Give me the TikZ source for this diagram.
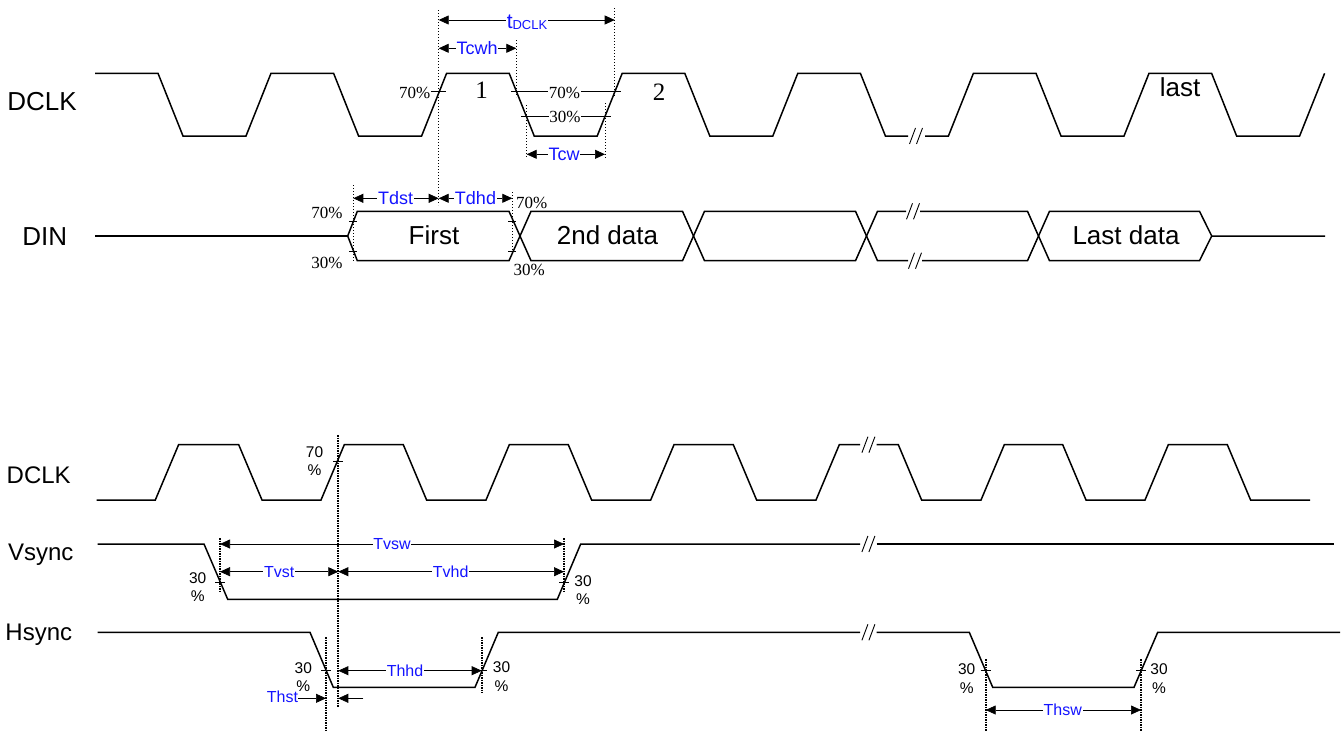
\documentclass[tikz,border=0pt]{standalone}
\usepackage{fontspec}
\setmainfont{Liberation Sans}
\newfontfamily\seriffont{Liberation Serif}
\usetikzlibrary{arrows.meta}
\definecolor{lblue}{RGB}{20,20,255}
\begin{document}
\begin{tikzpicture}[x=1pt,y=-1pt,
  wave/.style={line width=1.5pt},
  dotv/.style={line width=0.8pt, dash pattern=on 1.4pt off 1.6pt},
  dotb/.style={line width=1.8pt, dash pattern=on 1.5pt off 1pt},
  dimarr/.style={line width=0.7pt, {Triangle[length=10pt,width=9pt]}-{Triangle[length=10pt,width=9pt]}},
  onearr/.style={line width=0.7pt, -{Triangle[length=10pt,width=9pt]}},
  blbl/.style={text=lblue, fill=white, inner sep=0.8pt, font=\fontsize{18}{18}\selectfont},
  blbls/.style={text=lblue, fill=white, inner sep=0.8pt, font=\fontsize{16}{16}\selectfont},
  sigtop/.style={anchor=base, inner sep=0pt, font=\fontsize{26}{26}\selectfont},
  sigbot/.style={anchor=base, inner sep=0pt, font=\fontsize{24}{24}\selectfont},
  pct/.style={anchor=base, inner sep=0.6pt, font=\seriffont\fontsize{17}{17}\selectfont},
  pcts/.style={align=center, inner sep=0pt, font=\fontsize{15.5}{18.5}\selectfont},
  ticklin/.style={line width=0.8pt},
  brk/.pic={\draw[line width=0.9pt] (-6.5,8)--(-0.5,-8) (0.5,8)--(6.5,-8);}
]
\useasboundingbox (0,0) rectangle (1343,731);

% ---------------- top section ----------------
\node[sigtop] (dclkA) at (42,110.7) {DCLK};
\node[sigtop] (din) at (44.7,245) {DIN};

% DCLK top
\draw[wave] (95,73.3) -- (158,73.3) -- (183,136) -- (246,136) -- (271,73.3) -- (333.6,73.3) -- (358.6,136) -- (421.6,136) -- (446.6,73.3) -- (509.2,73.3) -- (534.2,136) -- (597.2,136) -- (622.2,73.3) -- (684.8,73.3) -- (709.8,136) -- (772.8,136) -- (797.8,73.3) -- (860.4,73.3) -- (885.4,136) -- (908,136);
\draw[wave] (925,136) -- (948.4,136) -- (973.4,73.3) -- (1036,73.3) -- (1061,136) -- (1124,136) -- (1149,73.3) -- (1211.6,73.3) -- (1236.6,136) -- (1299.6,136) -- (1324.6,73.3);
\pic at (916,136) {brk};

% DIN
\draw[wave] (95,236) -- (347.7,236);
\draw[wave] (347.7,236) -- (357.3,211.3) -- (509,211.3) -- (531,260.7) -- (682.5,260.7) -- (704.5,211.3) -- (855.5,211.3) -- (877.5,260.7) -- (908,260.7);
\draw[wave] (347.7,236) -- (357.3,260.7) -- (509,260.7) -- (531,211.3) -- (682.5,211.3) -- (704.5,260.7) -- (855.5,260.7) -- (877.5,211.3) -- (906,211.3);
\draw[wave] (920,211.3) -- (1027.5,211.3) -- (1049.5,260.7) -- (1199.5,260.7) -- (1211.7,236) -- (1325,236);
\draw[wave] (922,260.7) -- (1027.5,260.7) -- (1049.5,211.3) -- (1199.5,211.3) -- (1211.7,236);
\pic at (913,211.3) {brk};
\pic at (915,260.7) {brk};

\node[sigtop] (first) at (434,244.5) {First};
\node[sigtop] (second) at (607.5,244.5) {2nd data};
\node[sigtop] (lastd) at (1126,244.5) {Last data};
\node[sigtop] (lastc) at (1180,96) {last};
\node[anchor=base, inner sep=0pt, font=\seriffont\fontsize{25}{25}\selectfont] (one) at (481.7,98.3) {1};
\node[anchor=base, inner sep=0pt, font=\seriffont\fontsize{25}{25}\selectfont] (two) at (659,100) {2};

% dotted guide lines (top)
\coordinate (ga) at (438.7,10);   \coordinate (gab) at (438.7,205);
\coordinate (gb) at (516.3,40);   \coordinate (gbb) at (516.3,97);
\coordinate (gc) at (614.7,8);    \coordinate (gcb) at (614.7,97);
\coordinate (gd) at (526.7,105);  \coordinate (gdb) at (526.7,158);
\coordinate (ge) at (605,103);    \coordinate (geb) at (605,158);
\coordinate (gf) at (353.3,185);  \coordinate (gfb) at (353.3,262);
\coordinate (gg) at (512.3,192);  \coordinate (ggb) at (512.3,252);
\foreach \p/\q in {ga/gab,gb/gbb,gc/gcb,gd/gdb,ge/geb,gf/gfb,gg/ggb} \draw[dotv] (\p) -- (\q);

% 70% / 30% levels
\draw[ticklin] (431,91.7) -- (446,91.7);
\node[pct, anchor=base east] (p70a) at (431,98) {70\%};
\draw[ticklin] (511,91.7) -- (621,91.7);
\node[pct, fill=white] (p70b) at (564.5,98) {70\%};
\draw[ticklin] (521,116.7) -- (611,116.7);
\node[pct, fill=white] (p30b) at (565,122.7) {30\%};
\foreach \x/\y in {353.3/221.5,353.3/251,512.3/221.5,512.3/251} \draw[ticklin] (\x-4,\y) -- (\x+4,\y);
\node[pct] (p70c) at (327,218.3) {70\%};
\node[pct] (p30c) at (327,268.3) {30\%};
\node[pct] (p70d) at (531.7,208.3) {70\%};
\node[pct] (p30d) at (529.3,275) {30\%};

% dimension arrows (top)
\draw[dimarr] (438.7,20) -- (614.7,20);
\node[anchor=base, text=lblue, fill=white, inner sep=0.8pt] (tdclk) at (527,28.3) {\fontsize{21}{21}\selectfont t\raisebox{-1pt}{\fontsize{13}{13}\selectfont DCLK}};
\draw[dimarr] (438.7,48.3) -- (516.3,48.3);
\node[blbl] (tcwh) at (477,48.3) {Tcwh};
\draw[dimarr] (526.7,154.3) -- (605,154.3);
\node[blbl] (tcw) at (564,154.3) {Tcw};
\draw[dimarr] (353.3,198.3) -- (438.7,198.3);
\node[blbl] (tdst) at (395.7,198.3) {Tdst};
\draw[dimarr] (438.7,198.3) -- (512.3,198.3);
\node[blbl] (tdhd) at (475.5,198.3) {Tdhd};

% ---------------- bottom section ----------------
\node[sigbot] (dclkB) at (38.7,483.3) {DCLK};
\node[sigbot] (vsync) at (40.7,560) {Vsync};
\node[sigbot] (hsync) at (38.8,640) {Hsync};

% DCLK bottom
\draw[wave] (96.7,500) -- (155.3,500) -- (178.6,444.7) -- (238.7,444.7) -- (262,500) -- (321,500) -- (344.3,444.7) -- (403.3,444.7) -- (426.6,500) -- (486,500) -- (509.3,444.7) -- (568.3,444.7) -- (591.6,500) -- (650.7,500) -- (674,444.7) -- (733.3,444.7) -- (756.6,500) -- (816,500) -- (839.3,444.7) -- (860,444.7);
\draw[wave] (876.7,444.7) -- (898.3,444.7) -- (921.6,500) -- (981,500) -- (1004.3,444.7) -- (1062.7,444.7) -- (1086,500) -- (1145,500) -- (1168.3,444.7) -- (1227.3,444.7) -- (1250.6,500) -- (1310,500);
\pic at (868.4,444.7) {brk};

% Vsync
\draw[wave] (97.7,544) -- (204,544) -- (227.7,599.3) -- (557.3,599.3) -- (580.7,544) -- (860,544);
\draw[wave] (876.7,544) -- (1334.3,544);
\pic at (868.4,544) {brk};

% Hsync
\draw[wave] (97.7,632.3) -- (310,632.3) -- (333.3,687.3) -- (475,687.3) -- (498.3,632.3) -- (860,632.3);
\draw[wave] (876.7,632.3) -- (969.3,632.3) -- (992.7,687.3) -- (1134,687.3) -- (1157.7,632.3) -- (1340,632.3);
\pic at (868.4,632.3) {brk};

% dotted guide lines (bottom)
\coordinate (ha) at (338.3,435);  \coordinate (hab) at (338.3,707);
\coordinate (hb) at (220,538);    \coordinate (hbb) at (220,593);
\coordinate (hc) at (564,538);    \coordinate (hcb) at (564,593);
\coordinate (hd) at (326,637);    \coordinate (hdb) at (326,731);
\coordinate (he) at (481.7,637);  \coordinate (heb) at (481.7,693);
\coordinate (hf) at (985.7,659);  \coordinate (hfb) at (985.7,731);
\coordinate (hg) at (1141,659);   \coordinate (hgb) at (1141,731);
\foreach \p/\q in {ha/hab,hb/hbb,hc/hcb,hd/hdb,he/heb,hf/hfb,hg/hgb} \draw[dotb] (\p) -- (\q);

% ticks and percent labels (bottom)
\foreach \x/\y in {338.3/461.3,220/582.7,564/582.3,326/670.7,481.7/670.7,985.7/670.7,1141/670.7} \draw[ticklin] (\x-5,\y) -- (\x+5,\y);
\node[pcts] (q1) at (314.5,461) {70\\\%};
\node[pcts] (q2) at (197.7,587) {30\\\%};
\node[pcts] (q3) at (583,590.3) {30\\\%};
\node[pcts] (q4) at (303.3,677) {30\\\%};
\node[pcts] (q5) at (501.5,676.7) {30\\\%};
\node[pcts] (q6) at (966.7,678.5) {30\\\%};
\node[pcts] (q7) at (1159,678.5) {30\\\%};

% dimension arrows (bottom)
\draw[dimarr] (hb |- 0,544) -- (hc |- 0,544);
\node[blbls] (tvsw) at (392,544) {Tvsw};
\draw[dimarr] (hb |- 0,571.7) -- (ha |- 0,571.7);
\node[blbls] (tvst) at (279.3,571.7) {Tvst};
\draw[dimarr] (ha |- 0,571.7) -- (hc |- 0,571.7);
\node[blbls] (tvhd) at (450.7,571.7) {Tvhd};
\draw[dimarr] (ha |- 0,670.7) -- (he |- 0,670.7);
\node[blbls] (thhd) at (405,670.7) {Thhd};
\node[blbls, fill=none, inner sep=0pt] (thst) at (282.5,696.5) {Thst};
\draw[onearr] (thst.east |- 0,698.3) -- (hd |- 0,698.3);
\coordinate (thstr) at (363.3,698.3);
\draw[onearr] (thstr) -- (ha |- 0,698.3);
\draw[dimarr] (hf |- 0,710) -- (hg |- 0,710);
\node[blbls] (thsw) at (1062.7,710) {Thsw};
\end{tikzpicture}
\end{document}
